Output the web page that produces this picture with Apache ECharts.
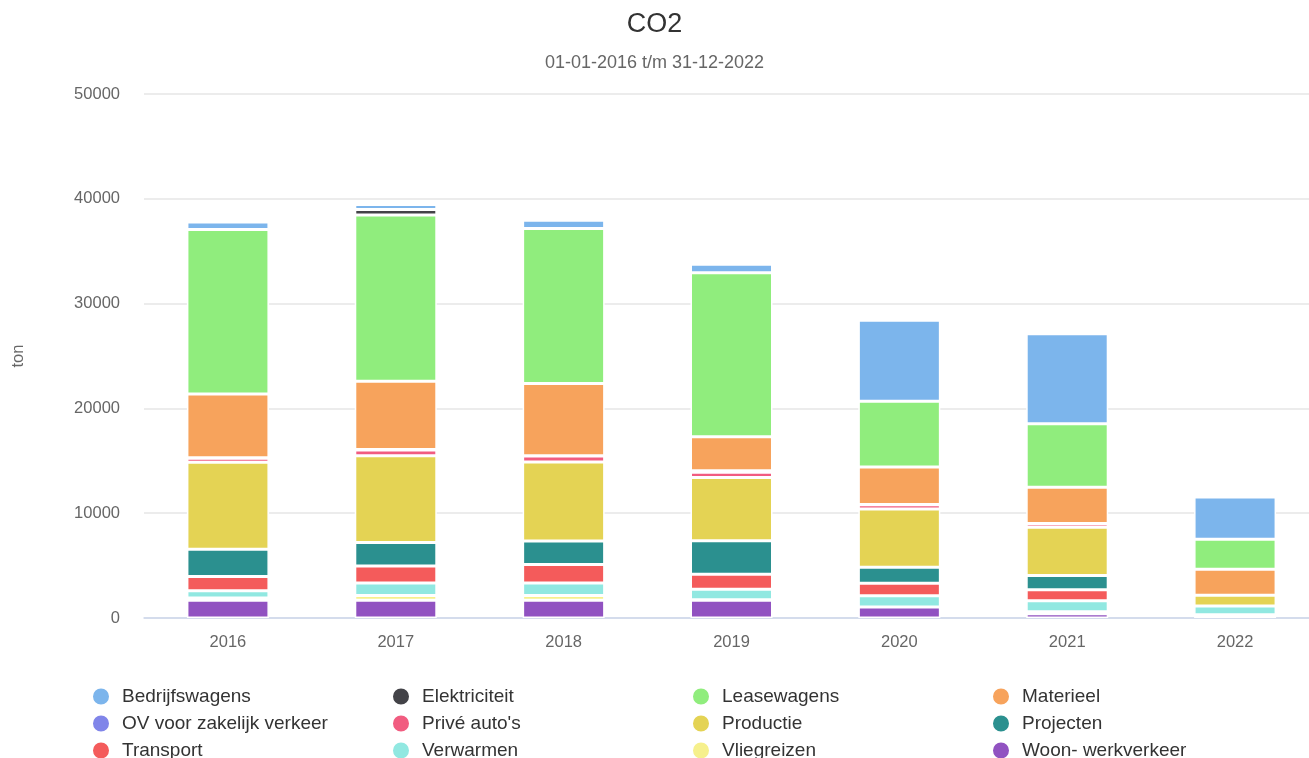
<!DOCTYPE html>
<html>
<head>
<meta charset="utf-8">
<script src="https://cdn.jsdelivr.net/npm/echarts@6/dist/echarts.min.js"></script>
<style>
html,body{margin:0;padding:0;background:#fff;}
#chart{width:1309px;height:758px;}
</style>
</head>
<body>
<div id="chart"></div>
<script>
const categories = ['2016', '2017', '2018', '2019', '2020', '2021', '2022'];
const seriesNames = ['Bedrijfswagens', 'Elektriciteit', 'Leasewagens', 'Materieel', 'OV voor zakelijk verkeer', "Privé auto's", 'Productie', 'Projecten', 'Transport', 'Verwarmen', 'Vliegreizen', 'Woon- werkverkeer'];
const colors = ['#7cb5ec', '#434348', '#90ed7d', '#f7a35c', '#8085e9', '#f15c80', '#e4d354', '#2b908f', '#f45b5b', '#91e8e1', '#f6f08c', '#9152c1'];

const bedrijfswagens = [700, 480, 780, 810, 7710, 8590, 4040];
const elektriciteit = [0, 530, 0, 0, 0, 0, 0];
const leasewagens = [15700, 15860, 14790, 15650, 6270, 6070, 2860];
const materieel = [6100, 6520, 6900, 3240, 3580, 3450, 2480];
const ovZakelijk = [30, 30, 30, 150, 30, 30, 0];
const priveAutos = [400, 570, 570, 500, 400, 330, 0];
const productie = [8300, 8270, 7540, 6030, 5560, 4610, 1020];
const projecten = [2600, 2250, 2240, 3200, 1530, 1350, 0];
const transport = [1350, 1600, 1765, 1430, 1190, 1050, 0];
const verwarmen = [700, 1200, 1190, 1000, 1080, 1050, 850];
const vliegreizen = [200, 450, 450, 50, 0, 200, 100];
const woonWerk = [1700, 1700, 1700, 1700, 1050, 400, 200];

const yTicks = { min: 0, max: 50000, interval: 10000 };

const values = [bedrijfswagens, elektriciteit, leasewagens, materieel, ovZakelijk, priveAutos, productie, projecten, transport, verwarmen, vliegreizen, woonWerk];

// ECharts stacks the first series at the bottom; reference has first series on top
const series = [];
for (let i = seriesNames.length - 1; i >= 0; i--) {
  series.push({
    name: seriesNames[i],
    type: 'bar',
    stack: 'total',
    barWidth: 82,
    data: values[i],
    itemStyle: { color: colors[i], borderColor: '#ffffff', borderWidth: 1.5 },
    emphasis: { disabled: true }
  });
}

const font = 'Liberation Sans, Arial, Helvetica, sans-serif';
const chart = echarts.init(document.getElementById('chart'), null, { renderer: 'canvas' });
chart.setOption({
  animation: false,
  color: colors,
  textStyle: { fontFamily: font },
  title: {
    text: 'CO2',
    subtext: '01-01-2016 t/m 31-12-2022',
    left: 'center',
    top: 5,
    itemGap: 13,
    textStyle: { fontFamily: font, fontSize: 27, fontWeight: 'normal', color: '#333333', lineHeight: 30 },
    subtextStyle: { fontFamily: font, fontSize: 18, color: '#666666', lineHeight: 20 }
  },
  legend: {
    data: seriesNames,
    left: 86,
    top: 678,
    width: 1210,
    itemGap: 0,
    icon: 'circle',
    itemWidth: 18,
    itemHeight: 18,
    selectedMode: false,
    textStyle: { fontFamily: font, fontSize: 19, color: '#333333', width: 269, lineHeight: 27, padding: [0, 0, 0, 7], overflow: 'truncate' }
  },
  grid: { left: 144, top: 94, width: 1175, bottom: 140, containLabel: false, outerBoundsMode: 'none' },
  xAxis: {
    type: 'category',
    data: categories,
    axisLine: { lineStyle: { color: '#ccd6eb', width: 1.5 } },
    axisTick: { show: false },
    axisLabel: { color: '#666666', fontSize: 16.5, margin: 16, fontFamily: font }
  },
  yAxis: {
    type: 'value',
    min: yTicks.min,
    max: yTicks.max,
    interval: yTicks.interval,
    name: 'ton',
    nameLocation: 'middle',
    nameRotate: 90,
    nameGap: 117,
    nameTextStyle: { color: '#666666', fontSize: 16.5, fontFamily: font },
    axisLine: { show: false },
    axisTick: { show: false },
    splitLine: { lineStyle: { color: '#e6e6e6', width: 1.5 } },
    axisLabel: { color: '#666666', fontSize: 16.5, margin: 24, fontFamily: font, formatter: function (v) { return String(v); } }
  },
  series: series
});
</script>
</body>
</html>
